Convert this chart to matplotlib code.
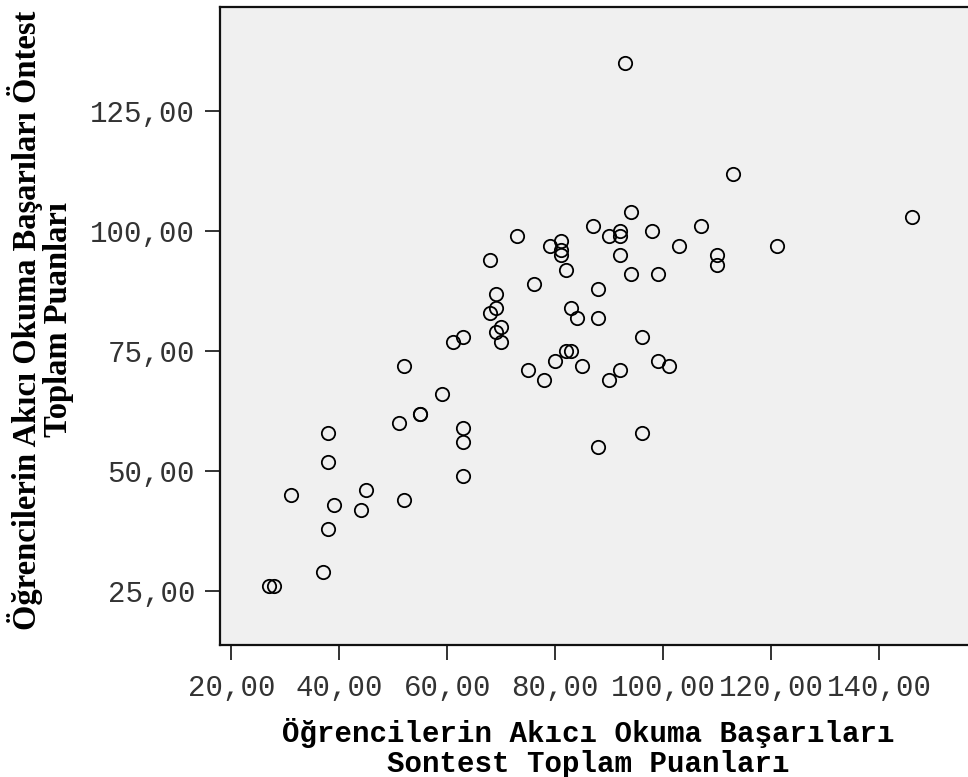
import matplotlib
matplotlib.use("Agg")
import matplotlib.pyplot as plt
from matplotlib.ticker import FuncFormatter, FixedLocator

# Post-test (x) and pre-test (y) total fluent reading scores per student
sontest = [93, 113, 146, 94, 87, 107, 73, 92, 92, 90, 98, 81, 79, 81, 81,
           103, 121, 110, 110, 92, 68, 82, 94, 99, 76, 88, 69, 69, 68, 83,
           84, 88, 70, 69, 70, 63, 61, 96, 52, 75, 78, 80, 82, 83, 85,
           92, 90, 99, 101, 59, 55, 55, 51, 63, 63, 63, 96, 88, 38, 38,
           31, 45, 39, 44, 52, 38, 37, 27, 28]
ontest = [135, 112, 103, 104, 101, 101, 99, 100, 99, 99, 100, 98, 97, 96, 95,
          97, 97, 95, 93, 95, 94, 92, 91, 91, 89, 88, 87, 84, 83, 84,
          82, 82, 80, 79, 77, 78, 77, 78, 72, 71, 69, 73, 75, 75, 72,
          71, 69, 73, 72, 66, 62, 62, 60, 59, 56, 49, 58, 55, 58, 52,
          45, 46, 43, 42, 44, 38, 29, 26, 26]

x_ticks = [20, 40, 60, 80, 100, 120, 140]
y_ticks = [25, 50, 75, 100, 125]

x_title = "Öğrencilerin Akıcı Okuma Başarıları\nSontest Toplam Puanları"
y_title = "Öğrencilerin Akıcı Okuma Başarıları Öntest\nToplam Puanları"

W, H = 968, 777
fig = plt.figure(figsize=(W / 100, H / 100), dpi=100)
fig.patch.set_facecolor("white")

# plot area in pixel coordinates
left, right, top, bottom = 220, 968, 7, 645
ax = fig.add_axes([left / W, 1 - bottom / H, (right - left) / W, (bottom - top) / H])
ax.set_facecolor("#f0f0f0")

ax.plot(sontest, ontest, linestyle="none", marker="o", markersize=9.6,
        markerfacecolor="none", markeredgecolor="black", markeredgewidth=1.3,
        clip_on=False)

ax.set_xlim(17.91, 156.43)
ax.set_ylim(13.81, 146.73)

comma = FuncFormatter(lambda v, p: f"{v:.2f}".replace(".", ","))
ax.xaxis.set_major_locator(FixedLocator(x_ticks))
ax.yaxis.set_major_locator(FixedLocator(y_ticks))
ax.xaxis.set_major_formatter(comma)
ax.yaxis.set_major_formatter(comma)

for s in ["left", "bottom", "top"]:
    ax.spines[s].set_linewidth(1.6)
    ax.spines[s].set_color("#111111")
ax.spines["right"].set_visible(False)

ax.tick_params(axis="both", direction="out", length=11, width=1.2,
               color="#111111", labelsize=21, labelcolor="#333333")
ax.tick_params(axis="x", pad=10)
ax.tick_params(axis="y", pad=7)
for lab in ax.get_xticklabels() + ax.get_yticklabels():
    lab.set_family("Liberation Mono")

fig.text(588 / W, 1 - 748 / H, x_title, ha="center", va="center",
         family="Liberation Mono", fontweight="bold", fontsize=21,
         linespacing=1.05, color="black")
fig.text(41 / W, 1 - 320 / H, y_title, ha="center", va="center",
         rotation=90, family="Liberation Serif", fontweight="bold",
         fontsize=23.5, linespacing=1.0, color="black")

fig.savefig("out.png", dpi=100, facecolor="white")
